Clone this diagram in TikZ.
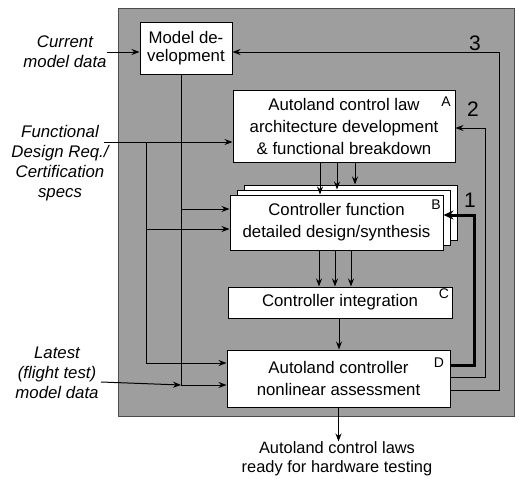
\documentclass[tikz,border=0pt]{standalone}
\usepackage{fontspec}
\setmainfont{Liberation Sans}
\usetikzlibrary{arrows.meta,calc}
\begin{document}
\begin{tikzpicture}[x=0.5pt,y=-0.5pt,
  box/.style={draw=black,fill=white,line width=0.5pt,inner sep=0pt,align=center,font=\fontsize{8.4}{11}\selectfont},
  side/.style={align=center,font=\fontsize{8.4}{10}\selectfont\itshape,inner sep=0pt},
  tag/.style={font=\fontsize{7}{8}\selectfont,inner sep=0pt},
  num/.style={font=\fontsize{10.5}{12}\selectfont,inner sep=0pt},
  conn/.style={line width=0.5pt,-{Stealth[length=4pt,width=3pt]}},
  plain/.style={line width=0.5pt},
  loopone/.style={line width=1.5pt,-{Stealth[length=5pt,width=4.5pt]}},
]
\useasboundingbox (0,0) rectangle (519,482);
\fill[black!38,draw=black!70,line width=0.5pt] (118,8) rectangle (514,416);

% boxes
\node[box,minimum width=46pt,minimum height=26pt,font=\fontsize{8.4}{9}\selectfont] (mdev) at (186,48) {Model de-\\velopment};
\node[box,minimum width=111pt,minimum height=36pt] (A) at (344,126) {Autoland control law\\architecture development\\\& functional breakdown};
\node[box,minimum width=106.5pt,minimum height=27.5pt] (B2) at (350.5,212.5) {};
\node[box,minimum width=106.5pt,minimum height=27.5pt] (B1) at (343.5,217.5) {};
\node[box,minimum width=106.5pt,minimum height=27.5pt] (B) at (336.5,222.5) {Controller function\\detailed design/synthesis};
\node[box,minimum width=112pt,minimum height=15.5pt] (C) at (340,302.5) {Controller integration};
\node[box,minimum width=111.5pt,minimum height=28.5pt] (D) at (338.5,378.5) {Autoland controller\\nonlinear assessment};

% corner tags
\node[tag] (tA) at (446,102) {A};
\node[tag] (tB) at (436,205) {B};
\node[tag] (tC) at (444,294) {C};
\node[tag] (tD) at (439,363) {D};

% loop numbers
\node[num] (n3) at (475,43) {3};
\node[num] (n2) at (473,109) {2};
\node[num] (n1) at (470,200) {1};

% side texts
\node[side] (cur) at (65,52) {Current\\model data};
\node[side] (func) at (60,163) {Functional\\Design Req./\\Certification\\specs};
\node[side] (lat) at (57,373) {Latest\\(flight test)\\model data};
\node[align=center,inner sep=0pt,font=\fontsize{8.2}{9.5}\selectfont] (out) at (337,459) {Autoland control laws\\ready for hardware testing};

% helper coordinates
\coordinate (fs) at (104,142);
\coordinate (fj) at (146,142);
\coordinate (fb) at (146,229);
\coordinate (fd) at (146,363);
\coordinate (mx) at (181,0);
\coordinate (mb) at (181,209);
\coordinate (mdd) at (181,385);
\coordinate (ls) at (101,382);
\coordinate (x1) at (320,0);
\coordinate (x2) at (337,0);
\coordinate (x3) at (355,0);
\coordinate (x4) at (319,0);
\coordinate (x5) at (335,0);
\coordinate (x6) at (351,0);
\coordinate (x7) at (339,0);
\coordinate (c1a) at (474,365);
\coordinate (c1b) at (474,215);
\coordinate (c2a) at (485,377);
\coordinate (c2b) at (485,128);
\coordinate (c3a) at (499,390);
\coordinate (c3b) at (499,52);

% inputs
\draw[conn] (cur.east) -- (cur.east -| mdev.west);
\draw[conn] (fs) -- (fs -| A.west);
\draw[plain] (fj) -- (fd);
\draw[conn] (fb) -- (fb -| B.west);
\draw[conn] (fd) -- (fd -| D.west);
\draw[plain] (mdev.south -| mx) -- (mdd);
\draw[conn] (mb) -- (mb -| B.west);
\draw[conn] (mdd) -- (mdd -| D.west);
\draw[conn] (ls) -- (mdd);

% forward flow
\draw[conn] (A.south -| x1) -- (B.north -| x1);
\draw[conn] (A.south -| x2) -- (B1.north -| x2);
\draw[conn] (A.south -| x3) -- (B2.north -| x3);
\draw[conn] (B.south -| x4) -- (C.north -| x4);
\draw[conn] (B.south -| x5) -- (C.north -| x5);
\draw[conn] (B.south -| x6) -- (C.north -| x6);
\draw[conn] (C.south -| x7) -- (D.north -| x7);
\draw[conn] (D.south) -- (D.south |- out.north);

% feedback loops
\draw[loopone] (c1a -| D.east) -- (c1a) -- (c1b) -- (c1b -| B.east);
\draw[conn] (c2a -| D.east) -- (c2a) -- (c2b) -- (c2b -| A.east);
\draw[conn] (c3a -| D.east) -- (c3a) -- (c3b) -- (c3b -| mdev.east);
\end{tikzpicture}
\end{document}
